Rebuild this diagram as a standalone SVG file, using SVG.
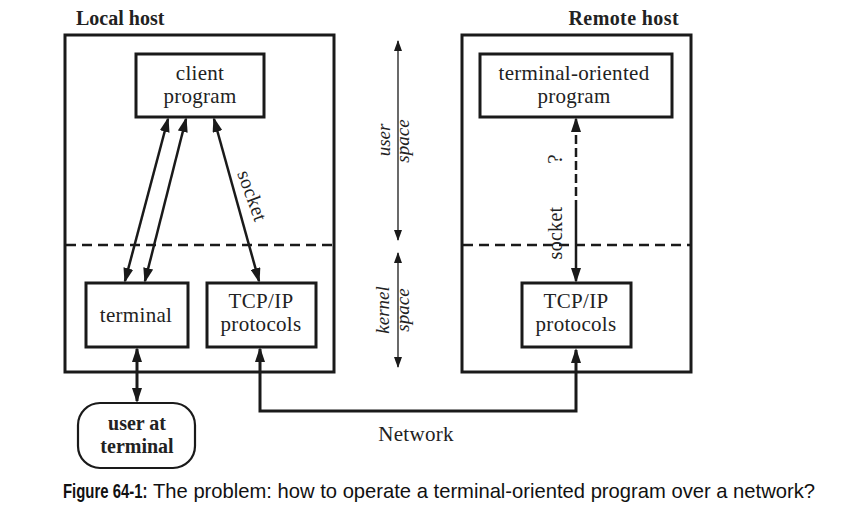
<svg xmlns="http://www.w3.org/2000/svg" width="847" height="518" viewBox="0 0 847 518">
<defs>
<style>
.box{fill:#fff;stroke:#1a1a1a;stroke-width:3}
.host{fill:none;stroke:#1a1a1a;stroke-width:3}
.t{font-family:"Liberation Serif",serif;font-size:21px;fill:#222;text-anchor:middle;letter-spacing:0.3px}
.b{font-family:"Liberation Serif",serif;font-size:20px;font-weight:bold;fill:#222}
.i{font-family:"Liberation Serif",serif;font-size:19px;font-style:italic;fill:#222;text-anchor:middle}
.cap{font-family:"Liberation Sans",Arial,sans-serif;font-size:20.2px;fill:#111}
.dash{stroke:#1a1a1a;stroke-width:2.5;stroke-dasharray:10 6;fill:none}
.arr{stroke:#1a1a1a;stroke-width:2.5;fill:none;marker-start:url(#ah);marker-end:url(#ah)}
.thin{stroke:#1a1a1a;stroke-width:1.3;fill:none;marker-start:url(#th);marker-end:url(#th)}
</style>
<marker id="ah" markerUnits="userSpaceOnUse" viewBox="0 0 15 10" markerWidth="15" markerHeight="10" refX="13" refY="5" orient="auto-start-reverse">
<path d="M0,0 L15,5 L0,10 z" fill="#1a1a1a"/>
</marker>
<marker id="th" markerUnits="userSpaceOnUse" viewBox="0 0 11 8" markerWidth="11" markerHeight="8" refX="10" refY="4" orient="auto-start-reverse">
<path d="M0,0 L11,4 L0,8 z" fill="#1a1a1a"/>
</marker>
</defs>
<rect width="847" height="518" fill="#fff"/>

<g id="local-host">
<rect class="host" x="65" y="35" width="269" height="337"/>
<text class="b" x="76" y="25">Local host</text>
<line class="dash" x1="66" y1="245" x2="332" y2="245"/>
</g>
<g id="remote-host">
<rect class="host" x="462" y="35" width="229" height="337"/>
<text class="b" x="679" y="25" text-anchor="end" style="letter-spacing:0.4px">Remote host</text>
<line class="dash" x1="463" y1="245" x2="690" y2="245"/>
</g>

<g id="client-program">
<rect class="box" x="136" y="54" width="128" height="63"/>
<text class="t" x="200" y="80">client</text>
<text class="t" x="200" y="103">program</text>
</g>
<g id="terminal-oriented-program">
<rect class="box" x="480" y="54" width="192" height="63"/>
<text class="t" x="574" y="80">terminal-oriented</text>
<text class="t" x="574" y="103">program</text>
</g>
<g id="terminal">
<rect class="box" x="86" y="283" width="102" height="64"/>
<text class="t" x="136" y="322">terminal</text>
</g>
<g id="tcpip-local">
<rect class="box" x="207" y="283" width="109" height="64"/>
<text class="t" x="261" y="308">TCP/IP</text>
<text class="t" x="261" y="331">protocols</text>
</g>
<g id="tcpip-remote">
<rect class="box" x="522" y="283" width="109" height="64"/>
<text class="t" x="576" y="308">TCP/IP</text>
<text class="t" x="576" y="331">protocols</text>
</g>
<g id="user-at-terminal">
<rect class="box" x="78" y="403" width="117" height="65" rx="22" ry="22" style="stroke-width:2.2"/>
<text class="b" x="137" y="430" text-anchor="middle">user at</text>
<text class="b" x="137" y="453" text-anchor="middle">terminal</text>
</g>

<g id="connectors">
<line class="arr" x1="168" y1="119" x2="125" y2="281"/>
<line class="arr" x1="186" y1="119" x2="145" y2="281"/>
<line class="arr" x1="214" y1="119" x2="259" y2="281"/>
<line class="arr" x1="137" y1="349" x2="137" y2="401" style="stroke-width:3"/>
<path class="arr" d="M260,349 L260,411 L576,411 L576,350" style="stroke-width:3"/>
<line class="arr" x1="576" y1="119" x2="576" y2="281" style="stroke-dasharray:12 4 9 4 9 4 9 4 9 4 9 4 200"/>
<line class="thin" x1="398" y1="41" x2="398" y2="240"/>
<line class="thin" x1="398" y1="253" x2="398" y2="367"/>
</g>

<g id="labels">
<text class="t" transform="translate(246,198) rotate(70)" x="0" y="0" style="font-size:20px">socket</text>
<text class="t" transform="translate(562,233) rotate(-90)" x="0" y="0" style="font-size:20px">socket</text>
<text class="t" transform="translate(562,159) rotate(-90)" x="0" y="0" style="font-size:22px">?</text>
<text class="i" transform="translate(390,140) rotate(-90)" x="0" y="0">user</text>
<text class="i" transform="translate(409,141) rotate(-90)" x="0" y="0">space</text>
<text class="i" transform="translate(389,310) rotate(-90)" x="0" y="0">kernel</text>
<text class="i" transform="translate(409,310) rotate(-90)" x="0" y="0">space</text>
<text class="t" x="416" y="441">Network</text>
</g>

<g id="caption">
<text class="cap" transform="translate(63,498) scale(0.71,1)" x="0" y="0" style="font-weight:bold;font-size:21px">Figure 64-1:</text>
<text class="cap" x="153" y="498">The problem: how to operate a terminal-oriented program over a network?</text>
</g>
</svg>
